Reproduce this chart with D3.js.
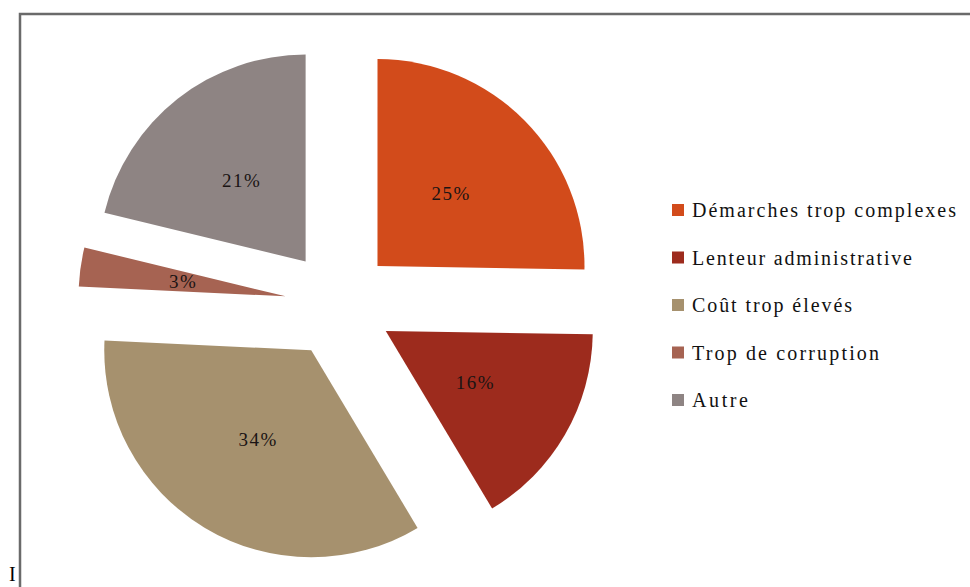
<!DOCTYPE html>
<html>
<head>
<meta charset="utf-8">
<script src="https://cdn.jsdelivr.net/npm/d3@7/dist/d3.min.js"></script>
<style>
  html, body { margin: 0; padding: 0; background: #ffffff; }
  svg { display: block; }
</style>
</head>
<body>
<svg id="chart" width="970" height="587"></svg>
<script>
// Raisons invoquées (parts en %)
const categories = [
  "Démarches trop complexes",
  "Lenteur administrative",
  "Coût trop élevés",
  "Trop de corruption",
  "Autre"
];
const values = [25, 16, 34, 3, 21];
const colors = ["#d24b1b", "#9d2b1d", "#a6916e", "#a66352", "#8e8483"];
// Largeur de chaque libellé de légende
const legendWidths = [264, 220, 160, 187, 56];

const svg = d3.select("#chart");

// Cadre du graphique
svg.append("rect")
  .attr("x", 20).attr("y", 14)
  .attr("width", 970).attr("height", 600)
  .attr("fill", "#ffffff")
  .attr("stroke", "#6a6a6a")
  .attr("stroke-width", 2.5);

// Camembert éclaté
const cx = 339, cy = 304;
const radius = 207;
const explode = 54;

const pie = d3.pie().sort(null).value(d => d);
const arc = d3.arc().innerRadius(0).outerRadius(radius);
const arcs = pie(values);

const g = svg.append("g").attr("transform", `translate(${cx},${cy})`);

const slice = g.selectAll("g.slice")
  .data(arcs)
  .enter().append("g")
  .attr("class", "slice")
  .attr("transform", d => {
    const mid = (d.startAngle + d.endAngle) / 2;
    return `translate(${Math.sin(mid) * explode},${-Math.cos(mid) * explode})`;
  });

slice.append("path")
  .attr("d", arc)
  .attr("fill", (d, i) => colors[i]);

slice.append("text")
  .attr("transform", d => `translate(${arc.centroid(d)})`)
  .attr("text-anchor", "middle")
  .attr("dominant-baseline", "central")
  .attr("font-family", "'Liberation Serif', 'DejaVu Serif', serif")
  .attr("font-size", 19)
  .attr("letter-spacing", 1.5)
  .attr("fill", "#1a1414")
  .text(d => d.data + "%");

// Légende
const legend = svg.append("g").attr("transform", "translate(672,210)");
const rowStep = 47.5;
const items = legend.selectAll("g.item")
  .data(categories)
  .enter().append("g")
  .attr("class", "item")
  .attr("transform", (d, i) => `translate(0,${i * rowStep})`);

items.append("rect")
  .attr("x", 0).attr("y", -6)
  .attr("width", 12).attr("height", 12)
  .attr("fill", (d, i) => colors[i]);

items.append("text")
  .attr("x", 20)
  .attr("y", 0)
  .attr("dominant-baseline", "central")
  .attr("font-family", "'Liberation Serif', 'DejaVu Serif', serif")
  .attr("font-size", 20)
  .attr("fill", "#111111")
  .attr("textLength", (d, i) => legendWidths[i])
  .attr("lengthAdjust", "spacing")
  .text(d => d);

// Caractère en marge, en bas à gauche
svg.append("text")
  .attr("x", 9).attr("y", 581)
  .attr("font-family", "'Liberation Serif', serif")
  .attr("font-size", 20)
  .attr("fill", "#000000")
  .text("I");
</script>
</body>
</html>
